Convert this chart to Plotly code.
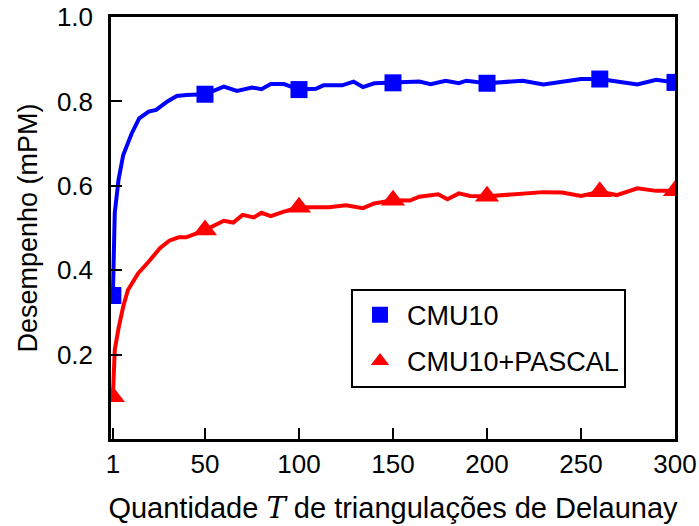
import plotly.graph_objects as go

# Line data
cmu_x = [1, 2, 4, 6.5, 11, 15, 20, 24, 30, 35, 40, 50, 60, 67, 75, 80, 85, 92, 100,
         109, 113, 123, 129, 134, 140, 150, 164, 170, 178, 185, 189, 200, 219, 230,
         250, 260, 267, 280, 290, 300]
cmu_y = [0.34, 0.536, 0.614, 0.673, 0.724, 0.76, 0.776, 0.78, 0.80, 0.813, 0.815, 0.817,
         0.835, 0.825, 0.833, 0.829, 0.841, 0.841, 0.828, 0.830, 0.838, 0.838, 0.847,
         0.834, 0.843, 0.844, 0.847, 0.841, 0.849, 0.843, 0.849, 0.843, 0.849, 0.840,
         0.853, 0.853, 0.849, 0.840, 0.851, 0.845]

pas_x = [1, 2, 4, 6.5, 9, 14.5, 20, 26, 31, 36, 40, 50, 60, 65, 70, 76, 80, 85, 92, 100,
         106, 116, 125, 134, 140, 150, 159, 164, 174, 179, 185, 191, 200, 219, 230, 240,
         250, 260, 269, 280, 290, 300]
pas_y = [0.100, 0.211, 0.262, 0.314, 0.353, 0.393, 0.42, 0.452, 0.47, 0.478, 0.478, 0.495,
         0.517, 0.513, 0.531, 0.525, 0.536, 0.528, 0.539, 0.549, 0.549, 0.549, 0.554,
         0.547, 0.558, 0.566, 0.565, 0.574, 0.580, 0.568, 0.582, 0.576, 0.575, 0.582,
         0.585, 0.584, 0.576, 0.586, 0.578, 0.594, 0.588, 0.588]

# Marker positions
mark_x = [1, 50, 100, 150, 200, 260, 300]
cmu_mark_y = [0.34, 0.817, 0.828, 0.844, 0.843, 0.853, 0.845]
pas_mark_y = [0.100, 0.495, 0.549, 0.566, 0.575, 0.586, 0.588]

x_ticks = [1, 50, 100, 150, 200, 250, 300]
y_ticks = [0, 0.2, 0.4, 0.6, 0.8, 1.0]
y_labels = ["", "0.2", "0.4", "0.6", "0.8", "1.0"]

series_names = ["CMU10", "CMU10+PASCAL"]

BLUE = "#0000ff"
RED = "#ff0000"
FONT = "Liberation Sans, Arial, Helvetica, sans-serif"

fig = go.Figure()
fig.add_trace(go.Scatter(x=cmu_x, y=cmu_y, mode="lines", line=dict(color=BLUE, width=4),
                         showlegend=False, hoverinfo="skip"))
fig.add_trace(go.Scatter(x=pas_x, y=pas_y, mode="lines", line=dict(color=RED, width=4),
                         showlegend=False, hoverinfo="skip"))
fig.add_trace(go.Scatter(x=mark_x, y=cmu_mark_y, mode="markers", name=series_names[0],
                         marker=dict(symbol="square", size=17, color=BLUE, line=dict(width=0)),
                         legendgroup="a"))
fig.add_trace(go.Scatter(x=mark_x, y=pas_mark_y, mode="markers", name=series_names[1],
                         marker=dict(symbol="triangle-up", size=21, color=RED, line=dict(width=0)),
                         legendgroup="b"))

fig.update_layout(
    width=699, height=526,
    margin=dict(l=111, r=24, t=17, b=87),
    paper_bgcolor="white", plot_bgcolor="white",
    font=dict(family=FONT, size=26, color="black"),
    showlegend=True,
    legend=dict(x=0.4255, y=0.356, xanchor="left", yanchor="top",
                bordercolor="black", borderwidth=2, bgcolor="white",
                font=dict(size=27), traceorder="grouped", tracegroupgap=8,
                itemsizing="trace", itemwidth=44),
    xaxis=dict(range=[0, 300], tickvals=x_ticks, ticks="inside", ticklen=11, tickwidth=2,
               tickcolor="black", showline=True, linewidth=2.5, linecolor="black",
               mirror=True, showgrid=False, zeroline=False, automargin=False,
               title=dict(text="Quantidade <span style=\"font-family:'DejaVu Serif'\"><i>T</i></span> de triangulações de Delaunay",
                          standoff=20, font=dict(size=29))),
    yaxis=dict(range=[0, 1.0], tickvals=y_ticks, ticktext=y_labels, ticks="inside", ticklen=11,
               tickwidth=2, tickcolor="black", showline=True, linewidth=2.5, linecolor="black",
               mirror=True, showgrid=False, zeroline=False, automargin=False,
               ticklabelstandoff=10,
               title=dict(text="Desempenho (mPM)", standoff=12, font=dict(size=27))),
)

fig.write_html("out.html")
